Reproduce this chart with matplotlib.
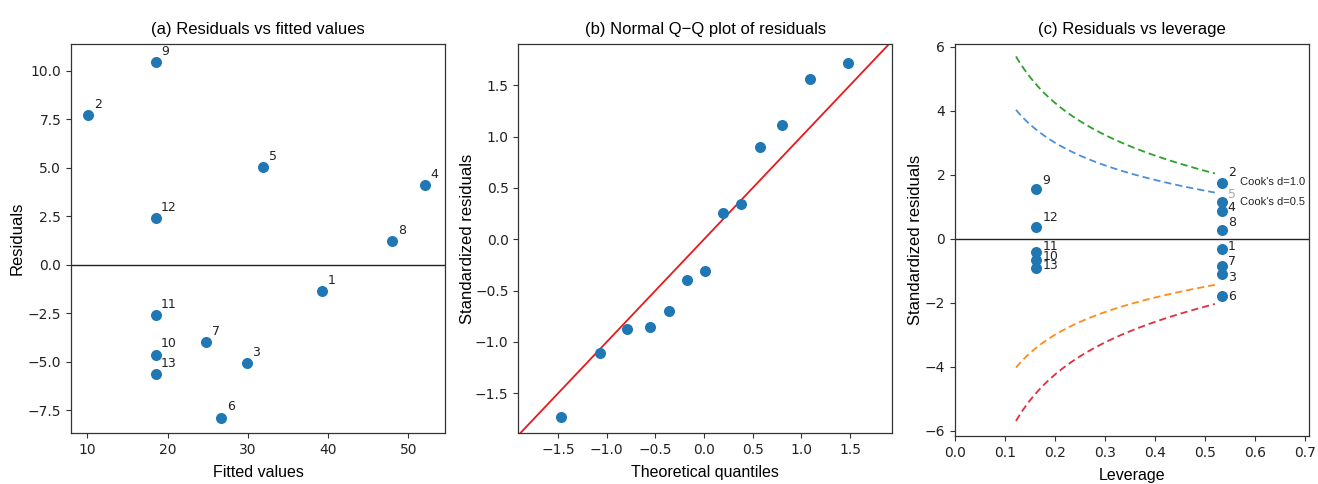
import matplotlib
matplotlib.use("Agg")
import matplotlib.pyplot as plt
import numpy as np

# ---------------- data ----------------
obs_labels = ['1', '2', '3', '4', '5', '6', '7', '8', '9', '10', '11', '12', '13']
fitted_values = [39.3, 10.1, 29.9, 52.1, 31.9, 26.7, 24.8, 48.0, 18.5, 18.5, 18.5, 18.5, 18.5]
residuals = [-1.38, 7.70, -5.07, 4.09, 5.03, -7.89, -4.00, 1.20, 10.43, -4.64, -2.61, 2.42, -5.65]

theoretical_quantiles = [-1.47, -1.07, -0.79, -0.56, -0.36, -0.175, 0.01,
                         0.19, 0.38, 0.58, 0.80, 1.09, 1.48]
sorted_std_residuals = [-1.73, -1.11, -0.873, -0.854, -0.70, -0.396, -0.309,
                        0.259, 0.347, 0.899, 1.11, 1.564, 1.72]

leverage = [0.534, 0.534, 0.534, 0.534, 0.534, 0.534, 0.534, 0.534,
            0.163, 0.163, 0.163, 0.163, 0.163]
std_residuals = [-0.33, 1.75, -1.11, 0.86, 1.15, -1.79, -0.86, 0.26,
                 1.54, -0.68, -0.42, 0.37, -0.91]

cook_levels = [1.0, 0.5]
cook_texts = ["Cook's d=1.0", "Cook's d=0.5"]
n_params = 4.5

# ---------------- style ----------------
TICK_FONT = 'DejaVu Sans'
LAB_FONT = 'Liberation Sans'
plt.rcParams['font.family'] = TICK_FONT
plt.rcParams['xtick.labelsize'] = 10
plt.rcParams['ytick.labelsize'] = 10
plt.rcParams['axes.linewidth'] = 0.9
plt.rcParams['axes.edgecolor'] = '#333333'
plt.rcParams['xtick.color'] = '#333333'
plt.rcParams['ytick.color'] = '#333333'
plt.rcParams['xtick.labelcolor'] = '#222222'
plt.rcParams['ytick.labelcolor'] = '#222222'

PT_COLOR = '#1f77b4'

fig = plt.figure(figsize=(13.18, 4.84), dpi=100)
W, H = 1318.0, 484.0


def add_ax(left, top, right, bottom):
    return fig.add_axes([left / W, 1 - bottom / H, (right - left) / W, (bottom - top) / H])


axA = add_ax(71, 44, 445, 433.3)
axB = add_ax(518.3, 44, 892.3, 433.3)
axC = add_ax(955, 44, 1309.3, 436)

title_kw = dict(fontfamily=LAB_FONT, fontsize=12, pad=7)
xlabel_kw = dict(fontfamily=LAB_FONT, fontsize=11.5, labelpad=6)
ylabel_kw = dict(fontfamily=LAB_FONT, fontsize=12, labelpad=1)

# ---------------- (a) ----------------
axA.scatter(fitted_values, residuals, s=48, color=PT_COLOR, zorder=3)
axA.axhline(0, color='#222222', lw=1.0, zorder=1)
for lab, x, y in zip(obs_labels, fitted_values, residuals):
    axA.annotate(lab, (x, y), xytext=(4, 3), textcoords='offset points',
                 ha='left', va='bottom', fontsize=9, color='#222222')
axA.set_xlim(7.97, 54.57)
axA.set_ylim(-8.70, 11.38)
axA.set_xticks([10, 20, 30, 40, 50])
axA.set_yticks([-7.5, -5.0, -2.5, 0.0, 2.5, 5.0, 7.5, 10.0])
axA.set_title('(a) Residuals vs fitted values', **title_kw)
axA.set_xlabel('Fitted values', **xlabel_kw)
axA.set_ylabel('Residuals', fontfamily=LAB_FONT, fontsize=12, labelpad=2)

# ---------------- (b) ----------------
axB.scatter(theoretical_quantiles, sorted_std_residuals, s=48, color=PT_COLOR, zorder=3)
bx0, bx1 = -1.909, 1.935
axB.set_xlim(bx0, bx1)
axB.set_ylim(-1.89, 1.902)
axB.plot([bx0, bx1], [bx0, bx1], color='#e8191b', lw=1.3, zorder=2)
axB.set_xticks([-1.5, -1.0, -0.5, 0.0, 0.5, 1.0, 1.5])
axB.set_yticks([-1.5, -1.0, -0.5, 0.0, 0.5, 1.0, 1.5])
axB.set_title('(b) Normal Q\u2212Q plot of residuals', **title_kw)
axB.set_xlabel('Theoretical quantiles', **xlabel_kw)
axB.set_ylabel('Standardized residuals', fontfamily=LAB_FONT, fontsize=12, labelpad=0)

# ---------------- (c) ----------------
h_line = np.linspace(0.122, 0.52, 100)
pos_colors = ['#2ca02c', '#4a90d9']
neg_colors = ['#e0303d', '#ff8c1a']
for d, cp, cn in zip(cook_levels, pos_colors, neg_colors):
    r = np.sqrt(d * n_params * (1 - h_line) / h_line)
    axC.plot(h_line, r, ls='--', color=cp, lw=1.3, dashes=(4, 2.2))
    axC.plot(h_line, -r, ls='--', color=cn, lw=1.3, dashes=(4, 2.2))

axC.scatter(leverage, std_residuals, s=48, color=PT_COLOR, zorder=3)
axC.axhline(0, color='#222222', lw=1.0, zorder=1)

# vertical label offsets (pixels, screen-down positive) as placed in the original
label_dy_px = {'1': -3, '2': -10, '3': 3, '4': -4, '5': -7, '6': 0, '7': -5,
               '8': -8, '9': -9, '10': -4, '11': -6, '12': -9, '13': -2}
for lab, x, y in zip(obs_labels, leverage, std_residuals):
    col = '#aaaaaa' if lab == '5' else '#222222'
    axC.annotate(lab, (x, y), xytext=(4.3, -label_dy_px[lab] * 0.72),
                 textcoords='offset points', ha='left', va='center',
                 fontsize=9, color=col, zorder=2)

axC.text(0.571, 1.78, cook_texts[0], fontfamily=LAB_FONT, fontsize=8,
         ha='left', va='center', color='#222222')
axC.text(0.571, 1.15, cook_texts[1], fontfamily=LAB_FONT, fontsize=8,
         ha='left', va='center', color='#222222')

axC.set_xlim(0, 0.709)
axC.set_ylim(-6.16, 6.08)
axC.set_xticks([0.0, 0.1, 0.2, 0.3, 0.4, 0.5, 0.6, 0.7])
axC.set_yticks([-6, -4, -2, 0, 2, 4, 6])
axC.set_title('(c) Residuals vs leverage', **title_kw)
axC.set_xlabel('Leverage', **xlabel_kw)
axC.set_ylabel('Standardized residuals', fontfamily=LAB_FONT, fontsize=12, labelpad=1)

fig.savefig('out.png', dpi=100, facecolor='white')
